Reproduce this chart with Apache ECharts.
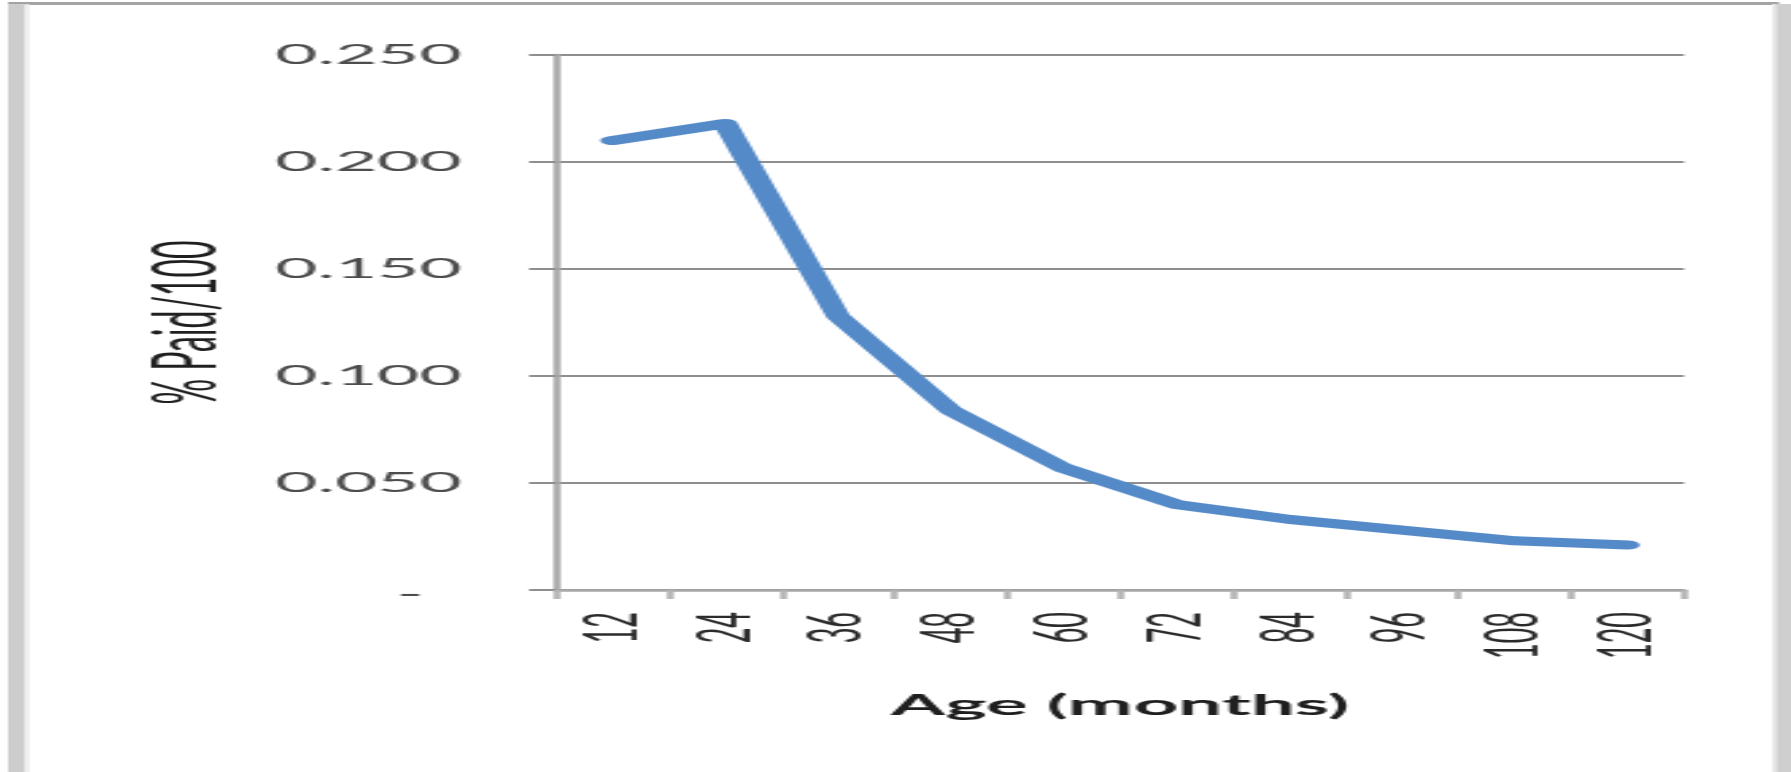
<!DOCTYPE html>
<html>
<head>
<meta charset="utf-8">
<script src="https://cdn.jsdelivr.net/npm/echarts@6/dist/echarts.min.js"></script>
<style>
  html, body { margin: 0; padding: 0; background: #ffffff; overflow: hidden; }
  /* The chart is laid out narrow and widened horizontally, like the wide worksheet chart it reproduces */
  #chart {
    position: absolute; left: 0; top: 0;
    width: 664px; height: 772px;
    transform-origin: 0 0;
    transform: scaleX(2.6973);
  }
</style>
</head>
<body>
<div id="chart"></div>
<script>
// Development age of the claims, in months
const ageMonths = ['12', '24', '36', '48', '60', '72', '84', '96', '108', '120'];
// Share of ultimate paid in each age band (% paid / 100)
const paidRatio = [0.210, 0.218, 0.128, 0.084, 0.057, 0.040, 0.033, 0.028, 0.023, 0.021];
// Value-axis tick labels (accounting style: zero shown as a dash)
const yTickLabels = ['-', '0.050', '0.100', '0.150', '0.200', '0.250'];
const yStep = 0.05;

const SX = 2.6973;            // horizontal widening of the page
const px = x => x / SX;        // page x -> chart x

const chart = echarts.init(document.getElementById('chart'), null, { renderer: 'canvas' });

const gridColor = '#8e8e8e';
const axisColor = '#a8a8a8';

chart.setOption({
  animation: false,
  backgroundColor: '#ffffff',
  graphic: [
    // frame of the chart object
    { type: 'rect', shape: { x: px(8), y: 2, width: px(1779 - 8), height: 3 }, style: { fill: '#a3a3a3' }, silent: true },
    { type: 'rect', shape: { x: px(8), y: 4, width: px(17), height: 768 }, style: { fill: '#cdcdcd' }, silent: true },
    { type: 'rect', shape: { x: px(25), y: 4, width: px(4), height: 768 }, style: { fill: '#ebebeb' }, silent: true },
    { type: 'rect', shape: { x: px(1772), y: 4, width: px(4), height: 768 }, style: { fill: '#ebebeb' }, silent: true },
    { type: 'rect', shape: { x: px(1776), y: 4, width: px(16), height: 768 }, style: { fill: '#cfcfcf' }, silent: true }
  ],
  grid: {
    left: px(556),
    right: 664 - px(1684),
    top: 55,
    bottom: 772 - 590,
    outerBoundsMode: 'none'
  },
  xAxis: {
    type: 'category',
    data: ageMonths,
    boundaryGap: true,
    name: 'Age (months)',
    nameLocation: 'middle',
    nameGap: 101,
    nameTextStyle: { fontFamily: 'Lato', fontWeight: 'bold', fontSize: 29, color: '#1f1f1f' },
    axisLine: { show: true, lineStyle: { color: axisColor, width: 2.5 } },
    axisTick: { show: true, length: 9, alignWithLabel: false, lineStyle: { color: '#b4b4b4', width: 2.5 } },
    axisLabel: { interval: 0, rotate: 90, margin: 22, fontFamily: 'Lato', fontSize: 27, color: '#2b2b2b' },
    splitLine: { show: false }
  },
  yAxis: {
    type: 'value',
    min: 0,
    max: 0.25,
    interval: yStep,
    name: '% Paid/100',
    nameLocation: 'middle',
    nameRotate: 90,
    nameGap: 120,
    nameTextStyle: { fontFamily: 'Lato', fontSize: 32, color: '#1f1f1f' },
    axisLine: { show: true, lineStyle: { color: axisColor, width: 2.5 } },
    axisTick: { show: true, length: 10, lineStyle: { color: gridColor, width: 2 } },
    axisLabel: {
      margin: 35,
      fontFamily: 'Lato',
      fontSize: 27,
      color: '#4d4d4d',
      formatter: v => {
        const i = Math.round(v / yStep);
        return i === 0 ? '{dash|' + yTickLabels[0] + '}' : yTickLabels[i];
      },
      rich: {
        dash: { fontFamily: 'Lato', fontSize: 27, color: '#4d4d4d', padding: [8, 14, 0, 0] }
      }
    },
    splitLine: { show: true, lineStyle: { color: gridColor, width: 2 } }
  },
  series: [{
    type: 'line',
    data: paidRatio,
    symbol: 'none',
    lineStyle: { color: '#558ac8', width: 9, cap: 'round', join: 'round' }
  }]
});
</script>
</body>
</html>
